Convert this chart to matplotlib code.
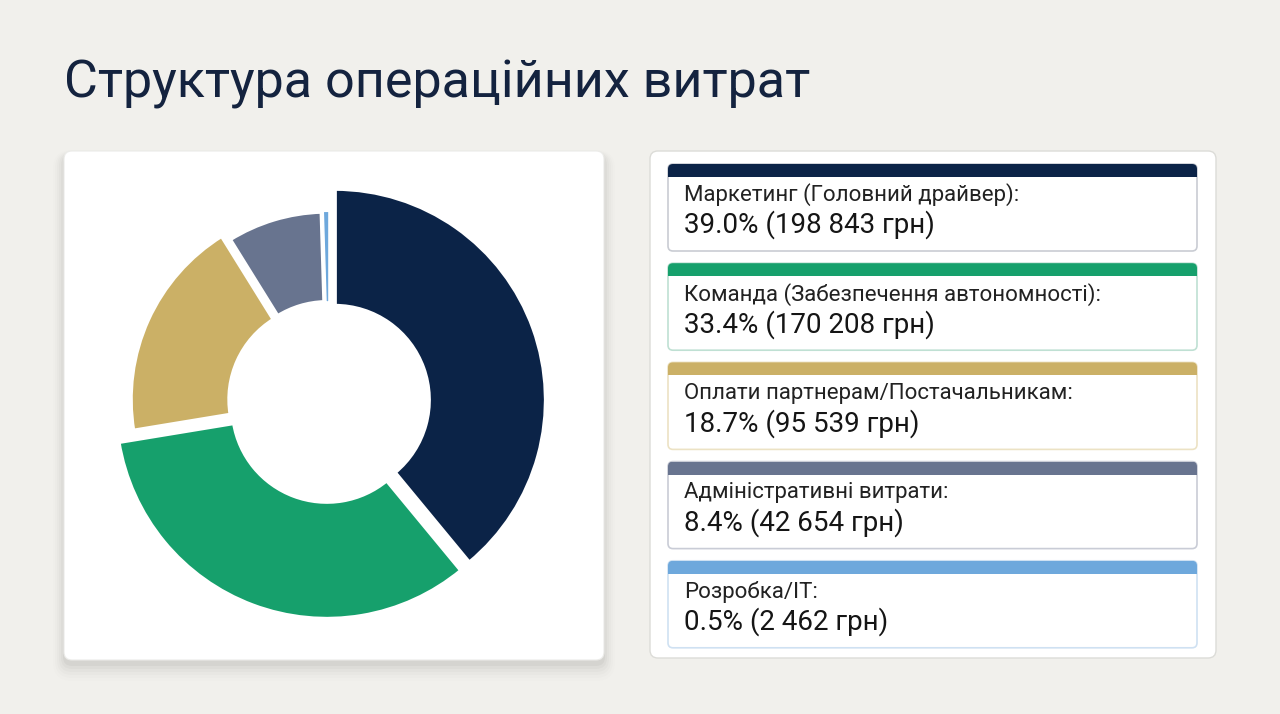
import matplotlib.pyplot as plt
from matplotlib.patches import FancyBboxPatch, Rectangle

# data
labels = [
    "Маркетинг (Головний драйвер):",
    "Команда (Забезпечення автономності):",
    "Оплати партнерам/Постачальникам:",
    "Адміністративні витрати:",
    "Розробка/IT:",
]
amounts = [198843, 170208, 95539, 42654, 2462]
shares = [39.0, 33.4, 18.7, 8.4, 0.5]
colors = ["#0b2347", "#16a06c", "#cbb066", "#68748f", "#6ea8dc"]
borders = ["#c9ccd3", "#bfe0d3", "#ece2c4", "#c9ccd6", "#cfe1f2"]

title = "Структура операційних витрат"

W, H = 1280, 714
bg = "#f1f0ec"

plt.rcParams['font.family'] = ['Roboto', 'DejaVu Sans']

fig = plt.figure(figsize=(W / 100, H / 100), dpi=100, facecolor=bg)

# pixel-space axes for panels and text
ax = fig.add_axes([0, 0, 1, 1])
ax.set_xlim(0, W)
ax.set_ylim(H, 0)
ax.set_axis_off()
ax.set_facecolor(bg)


def rbox(x0, y0, x1, y1, r, **kw):
    p = FancyBboxPatch((x0 + r, y0 + r), (x1 - x0) - 2 * r, (y1 - y0) - 2 * r,
                       boxstyle=f"round,pad={r}", **kw)
    ax.add_patch(p)
    return p


# title
ax.text(64, 84, title, fontsize=37.5, color="#14233f", ha="left", va="center")

# left card with soft shadow
for i, a in enumerate([0.03, 0.025, 0.02, 0.016, 0.012, 0.008]):
    g = 1 + i * 2
    rbox(64 - g, 151 - g + 5 + i, 604 + g, 660 + g + 5 + i, 8 + g,
         facecolor="#000000", edgecolor="none", alpha=a, zorder=1)
rbox(64, 151, 604, 660, 8, facecolor="white", edgecolor="#ebebe8", lw=0.8, zorder=2)

# right panel
rbox(650, 151, 1216, 658, 8, facecolor="white", edgecolor="#dcdcd8", lw=1.0, zorder=2)

# legend cards
top0, step, ch, bar_h = 164, 99.2, 87, 13
for i, (lab, amt, pct, c, bc) in enumerate(zip(labels, amounts, shares, colors, borders)):
    t = top0 + i * step
    card = rbox(668, t, 1197, t + ch, 5, facecolor="white", edgecolor=bc, lw=1.2, zorder=3)
    bar = Rectangle((668, t), 1197 - 668, bar_h, facecolor=c, edgecolor="none", zorder=4)
    ax.add_patch(bar)
    bar.set_clip_path(card)
    amt_txt = f"{amt:,}".replace(",", " ")
    ax.text(684, t + 31, lab, fontsize=16, color="#222222", ha="left", va="center", zorder=5)
    ax.text(684, t + 61, f"{pct:.1f}% ({amt_txt} грн)", fontsize=20, color="#151515",
            ha="left", va="center", zorder=5)

# donut
cx, cy, R = 329, 402, 205
half = R * 1.12
inner = 94 / R
radii = [1.03, 1.03, 0.94, 0.90, 0.90]
edge_w = [3, 3, 3, 3, 1]
pax = fig.add_axes([(cx - half) / W, (H - cy - half) / H, 2 * half / W, 2 * half / H])
wedges, _ = pax.pie(amounts, colors=colors, startangle=90, counterclock=False,
                    explode=[0.03] * len(amounts),
                    wedgeprops=dict(width=1 - inner, edgecolor="white", linewidth=3))
for w, r, lw in zip(wedges, radii, edge_w):
    w.set_radius(r)
    w.set_width(r - inner)
    w.set_linewidth(lw)
pax.set_xlim(-1.12, 1.12)
pax.set_ylim(-1.12, 1.12)
pax.set_aspect("equal")
pax.set_axis_off()

fig.savefig("out.png", dpi=100, facecolor=bg)
